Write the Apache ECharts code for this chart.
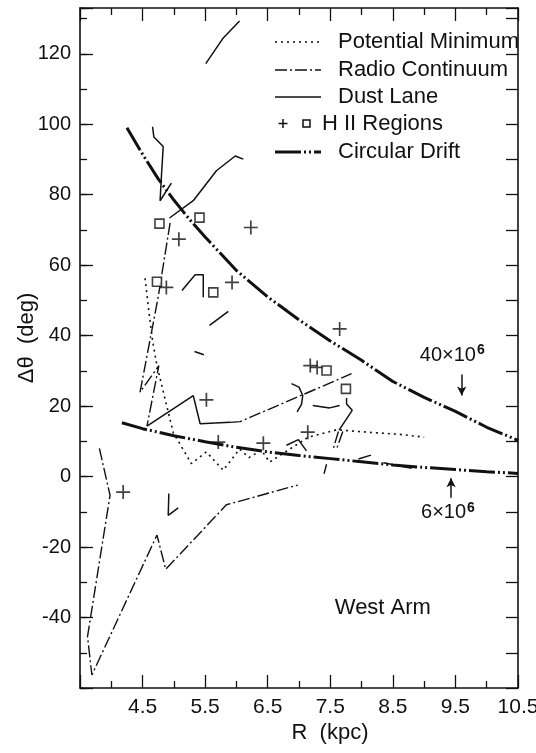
<!DOCTYPE html>
<html>
<head>
<meta charset="UTF-8">
<title>West Arm</title>
<style>html,body{margin:0;padding:0;background:#fff;}</style>
</head>
<body>
<div id="main" style="width:536px;height:753px;"></div>
<script src="https://cdn.jsdelivr.net/npm/echarts/dist/echarts.min.js"></script>
<script>
    // circular drift curves, R (kpc) vs delta theta (deg)
    var drift40 = [[4.25,99],[4.5,91.5],[4.75,84.5],[5.0,78.5],[5.25,73],[5.5,68],[6.0,58.5],[6.5,51],
        [7.0,44.5],[7.5,38.5],[8.0,33],[8.5,27],[9.0,22.5],[9.5,18.5],[10.0,14],[10.5,10.3]];
    var drift6 = [[4.17,15.3],[4.5,13.6],[5.0,11.6],[5.5,9.9],[6.0,8.3],[6.5,7.0],[7.0,6.0],[7.5,5.1],
        [8.0,4.2],[8.5,3.3],[9.0,2.6],[9.5,2.0],[10.0,1.4],[10.5,0.9]];

    var potentialMin = [[4.54,56.3],[4.6,47],[4.66,38.5],[4.73,31.5],[4.86,22],[4.99,12.5],[5.28,3.7],
        [5.52,7],[5.79,1.8],[6.05,7.8],[6.2,5.4],[6.4,7.5],[6.53,4.1],[6.8,7.2],[7.15,11.2],[7.6,13.3],
        [8.1,12.6],[8.6,12],[9.0,11.2]];

    var radioPieces = [
        [[3.81,8],[3.98,-5.3],[3.62,-45.4],[3.69,-56.3],[4.73,-16.6],[4.87,-26.3],[5.84,-8],[6.98,-2.4]],
        [[4.94,72],[4.75,51],[4.46,24],[4.76,31.5],[4.57,14.3]],
        [[5.9,15.4],[6.06,15.6],[7.84,29.2]],
        [[7.70,12.8],[7.60,7.8]],
        [[7.63,12.8],[7.54,7.5]],
        [[7.44,3.5],[7.40,0.8]]
    ];

    var dustPieces = [
        [[5.51,117.2],[5.79,124.5],[6.05,129.3]],
        [[4.66,99.3],[4.68,96.4],[4.83,93.7],[4.80,84.9],[4.78,78.3]],
        [[4.78,78.3],[4.96,83.3]],
        [[4.93,73.4],[5.31,78.3],[5.68,86.8],[5.98,91],[6.11,90.1]],
        [[5.13,52.8],[5.34,57.3],[5.47,57.3],[5.47,50.9]],
        [[5.57,42.9],[5.87,46.9]],
        [[5.33,35.5],[5.48,34.6]],
        [[4.57,14.3],[5.31,23],[5.42,15],[5.9,15.4]],
        [[4.92,-4.8],[4.91,-11],[5.07,-8.9]],
        [[6.88,26.4],[7.0,25.4],[7.06,23],[7.04,20.5],[6.97,18.4]],
        [[7.22,20.2],[7.49,19.5],[7.65,20.2]],
        [[7.76,22.3],[7.76,20.6],[7.85,18.8],[7.64,13.2]],
        [[6.8,8.9],[6.99,10.5],[7.12,7.3]],
        [[7.95,5.0],[8.15,6.1]],
        [[8.35,3.9],[8.55,3.2],[8.8,2.4]]
    ];

    var hiiPlus = [[5.08,67.4],[6.23,70.7],[4.88,53.7],[5.93,55.1],[7.65,41.9],[7.18,31.5],[7.29,31],
        [5.52,21.8],[5.71,9.8],[6.43,9.5],[7.14,12.6],[4.19,-4.4]];
    var hiiSquare = [[4.77,71.8],[5.41,73.5],[4.73,55.3],[5.63,52.3],[7.44,30.1],[7.75,24.9]];

    var FONT = 'Liberation Sans, Arial, sans-serif';
    var INK = '#111';

    var myChart = echarts.init(document.getElementById('main'));

    var series = [];
    function lineSeries(data, style) {
        series.push({
            type: 'line', data: data, symbol: 'none', silent: true, animation: false,
            lineStyle: style, z: 3
        });
    }
    var styPM = {color: INK, width: 1.6, type: [2, 4]};
    var styRC = {color: INK, width: 1.4, type: [12, 3, 2, 3]};
    var styDust = {color: INK, width: 1.5, type: 'solid'};
    var styDrift = {color: INK, width: 3, type: [26, 3, 2, 3, 2, 3]};

    lineSeries(potentialMin, styPM);
    radioPieces.forEach(function (p) { lineSeries(p, styRC); });
    dustPieces.forEach(function (p) { lineSeries(p, styDust); });
    lineSeries(drift40, styDrift);
    lineSeries(drift6, styDrift);

    // arrows near the drift labels
    series[series.length - 1].markLine = {
        silent: true, animation: false, symbol: ['none', 'arrow'], symbolSize: [7, 9],
        label: {show: false},
        lineStyle: {color: INK, width: 1.5, type: 'solid'},
        data: [
            [{coord: [9.6, 29]}, {coord: [9.6, 23]}],
            [{coord: [9.43, -6]}, {coord: [9.43, -0.5]}]
        ]
    };

    series.push({
        type: 'scatter', data: hiiPlus, symbol: 'path://M5,0L5,10M0,5L10,5', symbolSize: 14,
        silent: true, animation: false, z: 4,
        itemStyle: {color: 'rgba(0,0,0,0)', borderColor: INK, borderWidth: 1.7}
    });
    series.push({
        type: 'scatter', data: hiiSquare, symbol: 'rect', symbolSize: 9,
        silent: true, animation: false, z: 4,
        itemStyle: {color: '#fff', borderColor: INK, borderWidth: 1.6}
    });

    var axisLine = {show: true, onZero: false, lineStyle: {color: INK, width: 1.6}};
    var tickStyle = {color: INK, width: 1.3};

    var option = {
        backgroundColor: '#fff',
        animation: false,
        grid: {left: 80, right: 18, top: 8, bottom: 65, containLabel: false, outerBoundsMode: 'none'},
        xAxis: [{
            type: 'value', min: 3.5, max: 10.5, interval: 1, position: 'bottom',
            axisLine: axisLine, splitLine: {show: false},
            axisTick: {show: true, inside: true, length: 13, lineStyle: tickStyle},
            minorTick: {show: true, splitNumber: 2, length: 7, lineStyle: tickStyle},
            axisLabel: {
                color: INK, fontFamily: FONT, fontSize: 21, margin: 9,
                formatter: function (v) { return v < 4 ? '' : v.toFixed(1); }
            }
        }, {
            type: 'value', min: 3.5, max: 10.5, interval: 1, position: 'top',
            axisLine: axisLine, splitLine: {show: false},
            axisTick: {show: true, inside: true, length: 13, lineStyle: tickStyle},
            minorTick: {show: true, splitNumber: 2, length: 7, lineStyle: tickStyle},
            axisLabel: {show: false}
        }],
        yAxis: [{
            type: 'value', min: -60, max: 133, interval: 20, position: 'left',
            axisLine: axisLine, splitLine: {show: false},
            axisTick: {show: true, inside: true, length: 13, lineStyle: tickStyle},
            axisLabel: {
                color: INK, fontFamily: FONT, fontSize: 20, margin: 9,
                formatter: function (v) { return (v >= -40 && v <= 120 && v % 20 === 0) ? String(v) : ''; }
            }
        }, {
            type: 'value', min: -60, max: 133, interval: 10, position: 'left', offset: 0,
            axisLine: {show: false, onZero: false}, splitLine: {show: false},
            axisTick: {show: true, inside: true, length: 7, lineStyle: tickStyle},
            axisLabel: {show: false}
        }, {
            type: 'value', min: -60, max: 133, interval: 10, position: 'right',
            axisLine: axisLine, splitLine: {show: false},
            axisTick: {show: true, inside: true, length: 12, lineStyle: tickStyle},
            axisLabel: {show: false}
        }],
        series: series
    };
    myChart.setOption(option);

    // legend (drawn by hand, layout of the original figure)
    var legendRows = [
        {label: 'Potential Minimum', style: styPM, y: 42},
        {label: 'Radio Continuum', style: styRC, y: 70},
        {label: 'Dust Lane', style: styDust, y: 97},
        {label: 'H II Regions', style: null, y: 124},
        {label: 'Circular Drift', style: styDrift, y: 152}
    ];
    var graphics = [];
    legendRows.forEach(function (r) {
        if (r.style) {
            graphics.push({
                type: 'line', silent: true,
                shape: {x1: 275, y1: r.y, x2: 321, y2: r.y},
                style: {stroke: INK, lineWidth: r.style.width, lineDash: r.style.type === 'solid' ? null : r.style.type}
            });
        }
        graphics.push({
            type: 'text', silent: true, x: r.style ? 338 : 322, y: r.y,
            style: {text: r.label, fill: INK, font: '22px ' + FONT, align: 'left', verticalAlign: 'middle'}
        });
    });
    // "+" and square symbols of the H II legend row
    graphics.push({
        type: 'line', silent: true,
        shape: {x1: 283, y1: 119, x2: 283, y2: 128},
        style: {stroke: INK, lineWidth: 1.5}
    });
    graphics.push({
        type: 'line', silent: true,
        shape: {x1: 278.5, y1: 123.5, x2: 287.5, y2: 123.5},
        style: {stroke: INK, lineWidth: 1.5}
    });
    graphics.push({
        type: 'rect', silent: true,
        shape: {x: 303, y: 120, width: 7, height: 7},
        style: {stroke: INK, lineWidth: 1.5, fill: '#fff'}
    });

    // axis titles
    graphics.push({
        type: 'text', silent: true, x: 330, y: 733,
        style: {text: 'R  (kpc)', fill: INK, font: '22px ' + FONT, align: 'center', verticalAlign: 'middle'}
    });
    graphics.push({
        type: 'text', silent: true, x: 27, y: 338, rotation: Math.PI / 2,
        style: {text: 'Δθ  (deg)', fill: INK, font: '22px ' + FONT, align: 'center', verticalAlign: 'middle'}
    });

    // annotations placed in data units
    function note(xy, rich, text) {
        var p = myChart.convertToPixel({xAxisIndex: 0, yAxisIndex: 0}, xy);
        var st = {text: text, fill: INK, font: '22px ' + FONT, align: 'center', verticalAlign: 'middle'};
        if (rich) st.rich = rich;
        graphics.push({type: 'text', silent: true, x: p[0], y: p[1], style: st});
    }
    var supRich = {
        b: {fontSize: 20, fontFamily: FONT, fill: INK, lineHeight: 24},
        s: {fontSize: 14, fontFamily: FONT, fontWeight: 'bold', fill: INK, verticalAlign: 'top', lineHeight: 24, padding: [0, 0, 10, 1]}
    };
    note([9.45, 34.4], supRich, '{b|40×10}{s|6}');
    note([9.38, -10.3], supRich, '{b|6×10}{s|6}');
    note([8.34, -37.3], null, 'West Arm');

    myChart.setOption({graphic: graphics});
</script>
</body>
</html>
